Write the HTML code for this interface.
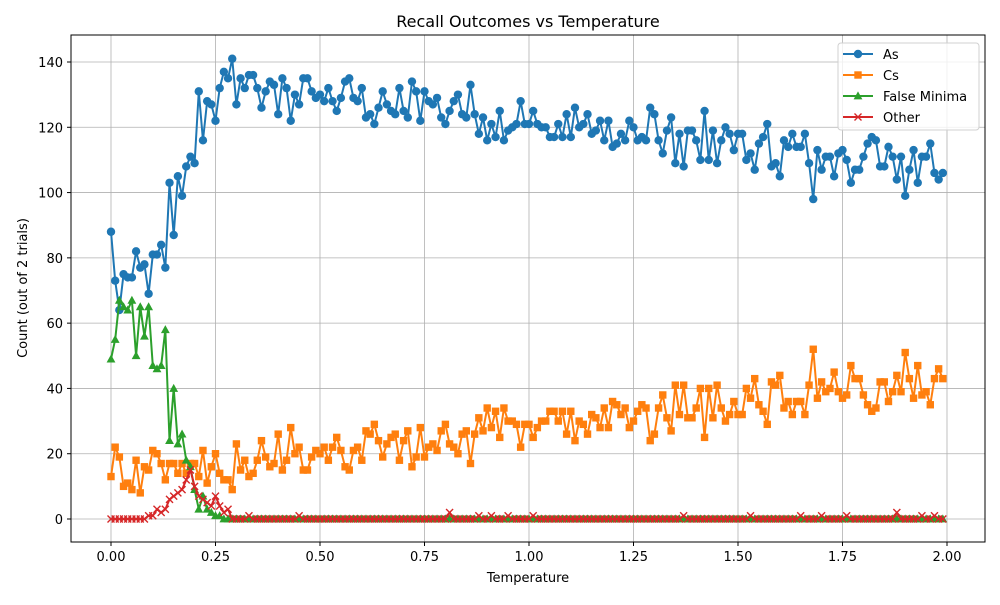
<!DOCTYPE html>
<html><head><meta charset="utf-8"><style>
body{margin:0;background:#fff;}
svg text{font-family:"DejaVu Sans","Liberation Sans",sans-serif;fill:#000;}
</style></head><body>
<svg id="chart" width="1000" height="600" xmlns="http://www.w3.org/2000/svg">
<rect width="1000" height="600" fill="#fff"/>
<g id="grid"></g>
<g id="series"></g>
<rect x="71" y="35" width="914" height="507" fill="none" stroke="#000" stroke-width="1"/>
<g id="axes"></g>
<text x="528" y="27" font-size="16" text-anchor="middle">Recall Outcomes vs Temperature</text>
<text x="528" y="582" font-size="13" text-anchor="middle">Temperature</text>
<text x="27" y="288" font-size="13" text-anchor="middle" transform="rotate(-90 27 288)">Count (out of 2 trials)</text>
<g id="legend"></g>
</svg>
<script>
const xTicks=[0,0.25,0.5,0.75,1.0,1.25,1.5,1.75,2.0];
const yTicks=[0,20,40,60,80,100,120,140];
const temps=[];for(let i=0;i<200;i++)temps.push(i/100);
const asVals=[88,73,64,75,74,74,82,77,78,69,81,81,84,77,103,87,105,99,108,111,109,131,116,128,127,122,132,137,135,141,127,135,132,136,136,132,126,131,134,133,124,135,132,122,130,127,135,135,131,129,130,128,132,128,125,129,134,135,129,128,132,123,124,121,126,131,127,125,124,132,125,123,134,131,122,131,128,127,129,123,121,125,128,130,124,123,133,124,118,123,116,121,117,125,116,119,120,121,128,121,121,125,121,120,120,117,117,121,117,124,117,126,120,121,124,118,119,122,116,122,114,115,118,116,122,120,116,117,116,126,124,116,112,119,123,109,118,108,119,119,116,110,125,110,119,109,116,120,118,113,118,118,110,112,107,115,117,121,108,109,105,116,114,118,114,114,118,109,98,113,107,111,111,105,112,113,110,103,107,107,111,115,117,116,108,108,114,111,104,111,99,107,113,103,111,111,115,106,104,106];
const csVals=[13,22,19,10,11,9,18,8,16,15,21,20,17,12,17,17,14,17,14,17,17,13,21,11,16,20,14,12,12,9,23,15,18,13,14,18,24,19,16,17,26,15,18,28,20,22,15,15,19,21,20,22,18,22,25,21,16,15,21,22,18,27,26,29,24,19,23,25,26,18,24,27,16,19,28,19,22,23,21,27,29,23,22,20,26,27,17,26,31,27,34,28,33,25,34,30,30,29,22,29,29,25,28,30,30,33,33,30,33,26,33,24,30,29,26,32,31,28,34,28,36,35,32,34,28,30,33,35,34,24,26,34,38,31,27,41,32,41,31,31,34,40,25,40,31,41,34,30,32,36,32,32,40,37,43,35,33,29,42,41,44,34,36,32,36,36,32,41,52,37,42,39,40,45,39,37,38,47,43,43,38,35,33,34,42,42,36,39,44,39,51,43,37,47,38,39,35,43,46,43];
const fmHead=[49,55,67,65,64,67,50,65,56,65,47,46,47,58,24,40,23,26,18,16,9,3,7,3,2,1,1];
const fmVals=temps.map((t,i)=>i<fmHead.length?fmHead[i]:0);
const otherHead=[0,0,0,0,0,0,0,0,0,1,1,3,2,3,6,7,8,9,12,15,10,7,6,5,4,7,4,2,3];
const otherSpikes={33:1,45:1,81:2,88:1,91:1,95:1,101:1,137:1,153:1,165:1,170:1,176:1,188:2,194:1,197:1};
const otherVals=temps.map((t,i)=>i<otherHead.length?otherHead[i]:(otherSpikes[i]||0));

const NS='http://www.w3.org/2000/svg';
const X=v=>111+v*418, Y=v=>519-v*3.2643;
function mk(tag,attrs,parent){const e=document.createElementNS(NS,tag);for(const k in attrs)e.setAttribute(k,attrs[k]);parent.appendChild(e);return e;}
const grid=document.getElementById('grid'),axes=document.getElementById('axes'),ser=document.getElementById('series'),leg=document.getElementById('legend');
xTicks.forEach(t=>{
  const gl=mk('line',{x1:X(t),x2:X(t),y1:35,y2:542,stroke:'#b0b0b0','stroke-width':0.8},grid);
  
  
  mk('line',{x1:X(t),x2:X(t),y1:542,y2:546,stroke:'#000'},axes);
  const tx=mk('text',{x:X(t),y:561,'font-size':13,'text-anchor':'middle'},axes);tx.textContent=t.toFixed(2);
  
  
});
yTicks.forEach(t=>{
  const gl=mk('line',{x1:71,x2:985,y1:Y(t),y2:Y(t),stroke:'#b0b0b0','stroke-width':0.8},grid);
  
  
  mk('line',{x1:67,x2:71,y1:Y(t),y2:Y(t),stroke:'#000'},axes);
  const tx=mk('text',{x:63,y:Y(t)+5,'font-size':13,'text-anchor':'end'},axes);tx.textContent=t;
  
  
});
function marker(type,x,y,color,g){
  if(type==='o')mk('circle',{cx:x,cy:y,r:4.2,fill:color},g);
  else if(type==='s')mk('rect',{x:x-3.7,y:y-3.7,width:7.4,height:7.4,fill:color},g);
  else if(type==='^')mk('polygon',{points:`${x},${y-4.6} ${x-4.4},${y+3.4} ${x+4.4},${y+3.4}`,fill:color},g);
  else mk('path',{d:`M${x-3.5},${y-3.5}L${x+3.5},${y+3.5}M${x-3.5},${y+3.5}L${x+3.5},${y-3.5}`,stroke:color,'stroke-width':1.4,fill:'none'},g);
}
const seriesDefs=[['As',asVals,'#1f77b4','o','series-as'],['Cs',csVals,'#ff7f0e','s','series-cs'],['False Minima',fmVals,'#2ca02c','^','series-false-minima'],['Other',otherVals,'#d62728','x','series-other']];
seriesDefs.forEach(([name,vals,color,m,dn])=>{
  const g=mk('g',{},ser);
  
  
  mk('polyline',{points:vals.map((v,i)=>X(temps[i])+','+Y(v)).join(' '),fill:'none',stroke:color,'stroke-width':2,'stroke-linejoin':'round'},g);
  vals.forEach((v,i)=>marker(m,X(temps[i]),Y(v),color,g));
});
const lb=mk('rect',{x:838,y:43,width:141,height:87,rx:3,fill:'#fff','fill-opacity':0.8,stroke:'#d0d0d0'},leg);


seriesDefs.forEach(([name,vals,color,m,dn],i)=>{
  const y=54+i*21;
  const g=mk('g',{},leg);
  
  
  mk('line',{x1:843,x2:873,y1:y,y2:y,stroke:color,'stroke-width':2},g);
  marker(m,858,y,color,g);
  const t=mk('text',{x:883,y:y+5,'font-size':13},g);t.textContent=name;
});
</script>
</body></html>
